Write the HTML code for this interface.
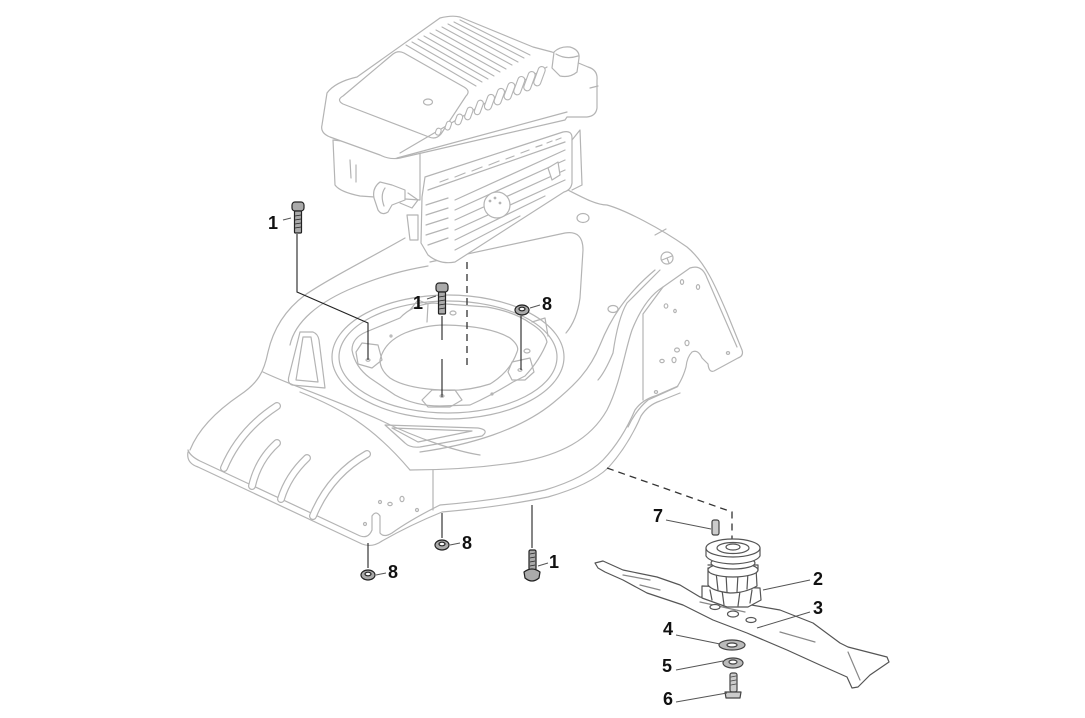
<!DOCTYPE html>
<html><head><meta charset="utf-8"><style>
html,body{margin:0;padding:0;background:#fff;}
svg{display:block;}
text{font-family:"Liberation Sans",sans-serif;font-weight:bold;font-size:18px;fill:#111;}
</style></head><body>
<svg width="1085" height="718" viewBox="0 0 1085 718" xmlns="http://www.w3.org/2000/svg">
<rect width="1085" height="718" fill="#fff"/>

<!-- ================= DECK ================= -->
<g fill="none" stroke="#b4b4b4" stroke-width="1.2" stroke-linejoin="round" stroke-linecap="round">
  <path d="M190,450 C198,430 215,412 240,395 C258,383 264,372 268,352 C273,330 285,310 305,295 C330,278 370,258 405,238"/>
  <path d="M290,345 C295,322 318,302 355,287 C385,275 405,270 428,266"/>
  <path d="M560,186 C580,196 595,205 607,205 C625,210 660,228 687,247 C705,262 715,285 727,313 L742,350 Q744,356 738,358 L714,371 Q709,373 708,364 L702,358 Q698,349 692,352 Q687,357 686,367 Q683,378 677,387 L648,400 Q636,410 628,427"/>
  <path d="M430,262 L565,233 Q583,230 583,250 L580,298 Q577,320 566,333"/>
  <path d="M663,287 L690,268 Q702,264 707,278 L737,347"/>
  <path d="M663,287 L643,314 L643,400"/>
  <path d="M660,270 L627,303 Q618,318 613,353 Q605,372 598,380"/>
  <path d="M655,235 L666,229"/>
  <path d="M188,450 Q190,456 200,461 L358,535 Q368,540 372,530 L372,516 Q376,510 380,516 L380,533 Q384,538 392,533 Q410,520 440,505 Q500,500 545,490 Q585,478 603,460 Q622,440 635,410 Q642,400 655,396 L678,386"/>
  <path d="M188,452 Q186,463 198,467 L362,544 Q372,548 382,541 Q410,525 442,512 Q500,507 548,497 Q590,485 608,468 Q628,446 641,416 Q648,405 660,401 L680,393"/>
  <path d="M263,372 C290,385 330,398 380,420 C420,440 460,452 480,455"/>
  <path d="M300,392 C340,408 372,425 410,470"/>
  <path d="M410,470 C440,470 480,468 520,462 C560,455 590,440 607,410 C620,385 625,350 632,330 C640,310 650,295 663,287"/>
  <path d="M420,452 C470,445 520,430 553,403 C575,385 590,370 600,345 C610,320 625,295 655,270"/>
  <path d="M433,470 L433,510"/>
  <ellipse cx="448" cy="357" rx="116" ry="62"/>
  <ellipse cx="448" cy="357" rx="109" ry="56"/>
  <path d="M352,350 Q352,338 366,332 L400,318 Q412,305 433,303 L487,307 Q515,312 530,323 Q545,332 547,342 Q540,360 525,376 L513,382 Q490,396 470,405 L440,406 Q415,406 395,395 L370,378 Q355,367 352,350 Z"/>
  <path d="M380,360 Q384,342 405,333 Q425,325 445,325 Q490,326 510,338 Q520,346 517,352 Q510,372 490,384 Q465,392 440,390 Q405,388 390,378 Q380,370 380,360 Z"/>
  <path d="M410,310 L418,300 L428,304 L427,322"/>
  <path d="M356,352 L362,343 L378,345 L382,360 L372,368 L358,364 Z"/>
  <path d="M422,400 L432,390 L455,390 L462,400 L450,407 L428,407 Z"/>
  <path d="M508,372 L512,362 L530,358 L534,372 L525,380 L512,380 Z"/>
  <path d="M532,322 L545,318 L548,336"/>
  <ellipse cx="368" cy="360" rx="2" ry="1.3"/>
  <ellipse cx="442" cy="396" rx="2" ry="1.3"/>
  <ellipse cx="520" cy="370" rx="2" ry="1.3"/>
  <ellipse cx="453" cy="313" rx="3" ry="2"/>
  <ellipse cx="527" cy="351" rx="3" ry="2"/>
  <circle cx="391" cy="336" r="1"/>
  <circle cx="492" cy="394" r="1"/>
  <path d="M300,332 L313,332 Q318,334 319,340 L325,388 L292,385 Q287,383 289,376 Z"/>
  <path d="M303,337 L311,337 L318,382 L296,380 Z"/>
  <path d="M385,425 L478,428 Q490,430 482,436 L420,447 Q410,448 405,443 Z"/>
  <path d="M392,428 L472,431 L418,442 Z"/>
  <ellipse cx="583" cy="218" rx="6" ry="4.5"/>
  <ellipse cx="613" cy="309" rx="5" ry="3.5"/>
  <circle cx="667" cy="258" r="6"/><path d="M662,260 L672,256 M667,258 L669,263"/>
  <ellipse cx="682" cy="282" rx="1.6" ry="2.4"/>
  <ellipse cx="698" cy="287" rx="1.6" ry="2.4"/>
  <ellipse cx="666" cy="306" rx="1.8" ry="2.2"/>
  <ellipse cx="675" cy="311" rx="1.3" ry="1.6"/>
  <ellipse cx="687" cy="343" rx="2" ry="2.6"/>
  <ellipse cx="677" cy="350" rx="2.4" ry="2"/>
  <ellipse cx="674" cy="360" rx="2" ry="2.6"/>
  <ellipse cx="662" cy="361" rx="2.2" ry="1.6"/>
  <ellipse cx="728" cy="353" rx="1.6" ry="1.4"/>
  <ellipse cx="656" cy="392" rx="1.6" ry="1.4"/>
  <ellipse cx="380" cy="502" rx="1.5" ry="1.5"/>
  <ellipse cx="390" cy="504" rx="2.2" ry="1.6"/>
  <ellipse cx="402" cy="499" rx="2" ry="2.6"/>
  <ellipse cx="417" cy="510" rx="1.5" ry="1.5"/>
  <ellipse cx="365" cy="524" rx="1.5" ry="1.5"/>
</g>
<g fill="none" stroke-linecap="round">
  <g stroke="#b4b4b4" stroke-width="8">
    <path d="M277,406 Q240,430 224,468"/>
    <path d="M277,443 Q258,460 252,486"/>
    <path d="M307,458 Q288,476 281,499"/>
    <path d="M367,454 Q330,475 313,516"/>
  </g>
  <g stroke="#fff" stroke-width="5.6">
    <path d="M277,406 Q240,430 224,468"/>
    <path d="M277,443 Q258,460 252,486"/>
    <path d="M307,458 Q288,476 281,499"/>
    <path d="M367,454 Q330,475 313,516"/>
  </g>
</g>

<!-- ================= ENGINE ================= -->
<g fill="#fff" stroke="#b4b4b4" stroke-width="1.2" stroke-linejoin="round" stroke-linecap="round">
  <path d="M333,140 L335,185 Q340,192 360,196 L420,200 L420,150 Z"/>
  <path d="M350,160 L351,178 M356,165 L356,182" fill="none"/>
  <path d="M322,125 L327,93 Q335,82 357,77 L440,18 Q452,15 460,17 L533,47 L552,52 L588,67 Q598,70 597,80 L597,108 Q596,116 587,117 L567,117 L565,120 L400,158 Q390,160 380,155 L330,137 Q320,133 322,125 Z"/>
  <path d="M343,104 Q336,100 343,96 L393,54 Q398,50 404,53 L464,87 Q471,91 466,96 L441,134 Q436,140 429,137 Z"/>
  <ellipse cx="428" cy="102" rx="4.5" ry="3"/>
  <path d="M552,68 L554,52 Q560,46 570,47 Q580,50 579,58 L577,72 Q570,78 560,76 Z"/>
  <path d="M556,54 Q566,60 578,56" fill="none"/>
  <path d="M400,153 L547,67 M397,158 L567,112" fill="none"/>
  <path d="M598,86 L590,88" fill="none"/>
</g>
<g fill="none" stroke="#b4b4b4" stroke-width="1.1" stroke-linecap="round">
  <path d="M406,45 L476,86 M412,42 L482,82 M418,39 L488,79 M424,36 L494,76 M430,33 L500,72 M436,30 L506,69 M442,27 L512,65 M448,24 L518,62 M454,22 L524,58 M460,20 L530,55"/>
</g>
<g fill="#fff" stroke="#b4b4b4" stroke-width="1.1">
  <rect x="436" y="128" width="5" height="7" rx="2.5" transform="rotate(20 438 131)"/>
  <rect x="446" y="121" width="5" height="9" rx="2.5" transform="rotate(20 448 125)"/>
  <rect x="456" y="114" width="6" height="11" rx="3" transform="rotate(20 459 119)"/>
  <rect x="466" y="107" width="6" height="13" rx="3" transform="rotate(20 469 113)"/>
  <rect x="476" y="100" width="6" height="15" rx="3" transform="rotate(20 479 107)"/>
  <rect x="486" y="94" width="7" height="16" rx="3.5" transform="rotate(20 489 102)"/>
  <rect x="496" y="88" width="7" height="17" rx="3.5" transform="rotate(20 499 96)"/>
  <rect x="506" y="82" width="7" height="18" rx="3.5" transform="rotate(20 509 91)"/>
  <rect x="516" y="76" width="7" height="19" rx="3.5" transform="rotate(20 519 85)"/>
  <rect x="526" y="71" width="7" height="20" rx="3.5" transform="rotate(20 529 81)"/>
  <rect x="536" y="66" width="7" height="20" rx="3.5" transform="rotate(20 539 76)"/>
</g>
<g fill="#fff" stroke="#b4b4b4" stroke-width="1.2" stroke-linejoin="round" stroke-linecap="round">
  <path d="M425,177 L563,132 Q572,130 572,138 L572,183 Q571,190 564,192 L455,262 Q440,265 428,255 L421,243 L422,197 Z"/>
  <path d="M572,140 L580,130 L582,185 L572,190" fill="none"/>
  <path d="M428,190 L565,142" fill="none"/>
  <path d="M455,210 L565,160 M455,220 L565,170 M455,230 L565,180 M455,240 L545,196 M455,250 L520,216 M455,200 L565,150" fill="none"/>
  <path d="M426,205 L448,198 M426,215 L448,208 M426,225 L448,218 M426,235 L448,228 M428,245 L448,238" fill="none"/>
  <circle cx="497" cy="205" r="13"/>
  <circle cx="490" cy="201" r="0.8" fill="#b4b4b4"/><circle cx="495" cy="198" r="0.8" fill="#b4b4b4"/><circle cx="500" cy="203" r="0.8" fill="#b4b4b4"/>
  <path d="M440,182 L448,179 M455,177 L465,173 M472,171 L482,167 M489,165 L499,161 M506,159 L514,156 M521,153 L529,150 M536,147 L542,145 M547,143 L552,141 M556,140 L561,138" fill="none"/>
  <path d="M548,168 L558,162 L560,175 L552,180 Z"/>
  <path d="M380,182 Q372,188 374,198 L378,210 Q382,216 388,212 L392,205 L405,200 L405,190 L392,185 Z"/>
  <path d="M385,188 Q380,195 384,206" fill="none"/>
  <path d="M400,203 L412,208 L418,200 L408,193" fill="none"/>
  <path d="M407,215 L418,215 L418,240 L410,240 Z"/>
</g>

<g fill="none" stroke="#333" stroke-width="1.3" stroke-dasharray="7,5">
  <path d="M467,262 L467,368"/>
  <path d="M607,468 L732,512 L732,545"/>
</g>

<!-- ================= BLADE & HUB ================= -->
<g fill="#fff" stroke="#555" stroke-width="1.2" stroke-linejoin="round" stroke-linecap="round">
  <path d="M595,563 L603,561 L623,570 L657,577 L680,585 L700,597 L740,603 L780,610 L813,623 L840,643 L848,647 L887,657 L889,662 L870,675 L858,687 L852,688 L847,677 L820,665 L787,650 L747,633 L713,620 L683,605 L647,593 L623,580 L605,572 L598,568 Z"/>
  <path d="M623,575 L650,580 M700,602 L745,612 M780,632 L815,642 M848,652 L860,680 M640,585 L660,590" fill="none" stroke="#888"/>
  <ellipse cx="715" cy="607" rx="5" ry="2.5"/>
  <ellipse cx="733" cy="614" rx="5.5" ry="3"/>
  <ellipse cx="751" cy="620" rx="5" ry="2.5"/>
  <path d="M702,586 L760,588 L761,600 L748,607 L727,607 L702,598 Z"/>
  <path d="M710,590 L712,600 M722,590 L724,605 M740,591 L738,606 M752,590 L750,603" fill="none"/>
  <path d="M708,568 L756,568 L757,586 Q745,593 730,593 Q712,591 708,585 Z"/>
  <path d="M716,572 L718,590 M726,574 L727,592 M738,574 L737,592 M748,572 L747,589" fill="none"/>
  <ellipse cx="733" cy="570" rx="25" ry="7"/>
  <path d="M708,565 L758,565 L758,570" fill="none"/>
  <ellipse cx="733" cy="563" rx="22" ry="6"/>
  <path d="M706,548 L706,556 Q710,563 733,564 Q756,563 760,556 L760,548 Z"/>
  <ellipse cx="733" cy="548" rx="27" ry="9"/>
  <ellipse cx="733" cy="548" rx="16" ry="5.5"/>
  <ellipse cx="733" cy="547" rx="7" ry="3"/>
  <rect x="712" y="520" width="7" height="15" rx="2" fill="#ccc" stroke="#444"/>
  <ellipse cx="732" cy="645" rx="13" ry="5" fill="#bbb" stroke="#444"/>
  <ellipse cx="732" cy="645" rx="5" ry="2" fill="#fff" stroke="#444"/>
  <ellipse cx="733" cy="663" rx="10" ry="5" fill="#bbb" stroke="#444"/>
  <ellipse cx="733" cy="662" rx="4" ry="2" fill="#fff" stroke="#444"/>
  <rect x="730" y="673" width="7" height="19" rx="2" fill="#ccc" stroke="#444"/>
  <path d="M731,677 L736,676 M731,681 L736,680 M731,685 L736,684" fill="none" stroke="#444" stroke-width="0.8"/>
  <path d="M725,692 L741,692 L740,698 L726,698 Z" fill="#ccc" stroke="#444"/>
</g>

<!-- ================= BLACK PARTS ================= -->
<g stroke="#222" stroke-width="1.2" fill="#aaa" stroke-linejoin="round">
  <rect x="292" y="202" width="12" height="9" rx="3"/>
  <rect x="294.5" y="211" width="7" height="22" rx="1"/>
  <path d="M295,216 L301,215 M295,220 L301,219 M295,224 L301,223 M295,228 L301,227" fill="none" stroke-width="0.8"/>
  <rect x="436" y="283" width="12" height="9" rx="3"/>
  <rect x="438.5" y="292" width="7" height="22" rx="1"/>
  <path d="M439,297 L445,296 M439,301 L445,300 M439,305 L445,304 M439,309 L445,308" fill="none" stroke-width="0.8"/>
  <ellipse cx="522" cy="310" rx="7" ry="5"/>
  <ellipse cx="522" cy="309" rx="3" ry="1.8" fill="#fff"/>
  <ellipse cx="442" cy="545" rx="7" ry="5"/>
  <ellipse cx="442" cy="544" rx="3" ry="1.8" fill="#fff"/>
  <ellipse cx="368" cy="575" rx="7" ry="5"/>
  <ellipse cx="368" cy="574" rx="3" ry="1.8" fill="#fff"/>
  <rect x="529" y="550" width="7" height="20" rx="1.5"/>
  <path d="M530,554 L535,553 M530,558 L535,557 M530,562 L535,561 M530,566 L535,565" fill="none" stroke-width="0.8"/>
  <path d="M524,572 Q532,566 540,572 L539,578 Q532,584 525,578 Z"/>
</g>

<g fill="none" stroke="#222" stroke-width="1.1">
  <path d="M297,234 L297,292 L368,323 L368,360"/>
  <path d="M442,316 L442,340 M442,359 L442,397"/>
  <path d="M521,316 L521,370"/>
  <path d="M442,513 L442,538"/>
  <path d="M368,543 L368,568"/>
  <path d="M532,505 L532,548"/>
</g>
<g fill="none" stroke="#555" stroke-width="1">
  <path d="M283,220 L291,218"/>
  <path d="M427,299 L436,296"/>
  <path d="M530,308 L540,305"/>
  <path d="M450,545 L460,543"/>
  <path d="M376,575 L386,573"/>
  <path d="M538,566 L548,563"/>
  <path d="M666,520 L711,529"/>
  <path d="M810,580 L763,590"/>
  <path d="M810,612 L757,628"/>
  <path d="M676,635 L720,644"/>
  <path d="M676,670 L723,661"/>
  <path d="M676,702 L727,693"/>
</g>

<text x="273" y="229" text-anchor="middle">1</text>
<text x="418" y="309" text-anchor="middle">1</text>
<text x="547" y="310" text-anchor="middle">8</text>
<text x="467" y="549" text-anchor="middle">8</text>
<text x="393" y="578" text-anchor="middle">8</text>
<text x="554" y="568" text-anchor="middle">1</text>
<text x="658" y="522" text-anchor="middle">7</text>
<text x="818" y="585" text-anchor="middle">2</text>
<text x="818" y="614" text-anchor="middle">3</text>
<text x="668" y="635" text-anchor="middle">4</text>
<text x="667" y="672" text-anchor="middle">5</text>
<text x="668" y="705" text-anchor="middle">6</text>
</svg>
</body></html>
